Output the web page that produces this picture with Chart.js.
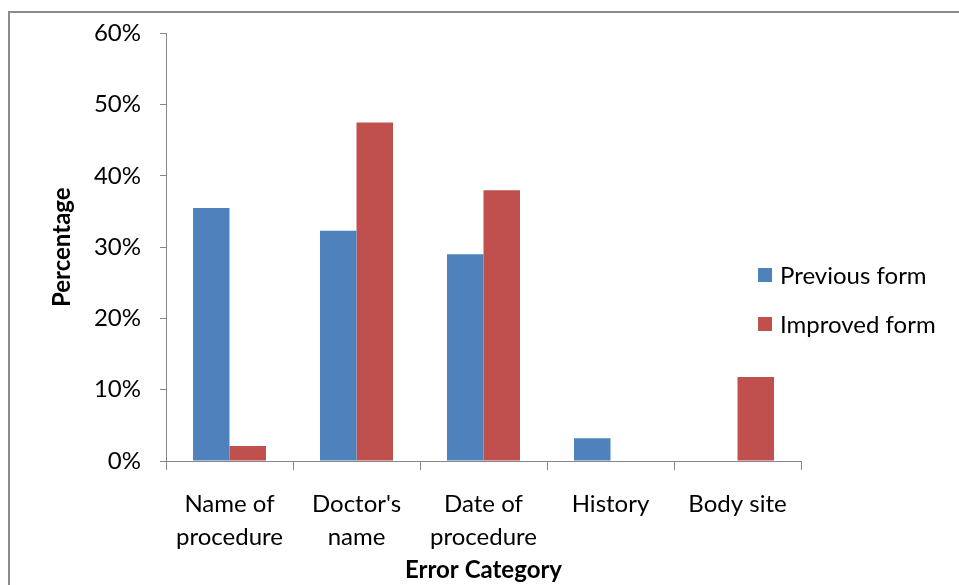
<!DOCTYPE html>
<html>
<head>
<meta charset="utf-8">
<script src="https://cdn.jsdelivr.net/npm/chart.js@4"></script>
<style>
    body { margin: 0; background: #fff; }
    #wrap { position: relative; width: 959px; height: 585px; overflow: hidden; }
    #frame { position: absolute; left: 8px; top: 11px; width: 1000px; height: 600px; border: 2px solid #8c8c8c; }
    #chart { position: absolute; left: 0; top: 0; }
    #legend { position: absolute; left: 758px; top: 260px; font-family: Lato, sans-serif; font-size: 24px; color: #000; }
    .item { position: relative; height: 49px; line-height: 30px; padding-left: 22px; white-space: nowrap; }
    .box { position: absolute; left: 0; top: 8px; width: 14px; height: 14px; }
</style>
</head>
<body>
<div id="wrap">
    <div id="frame"></div>
    <canvas id="chart" width="959" height="585"></canvas>
    <div id="legend"></div>
</div>
<script>
// data
const categories = [['Name of', 'procedure'], ["Doctor's", 'name'], ['Date of', 'procedure'], 'History', 'Body site'];
const seriesNames = ['Previous form', 'Improved form'];
const previousForm = [35.5, 32.3, 29.0, 3.2, 0];
const improvedForm = [2.1, 47.5, 38.0, 0, 11.8];
const yMax = 60;
const yStep = 10;

const colors = ['#4f81bd', '#c0504d'];
const axisColor = '#868686';
const fontFamily = 'Lato, sans-serif';

Chart.defaults.font.family = fontFamily;
Chart.defaults.color = '#000';

let config = {
    type: 'bar',
    data: {
        labels: categories,
        datasets: [{
            label: seriesNames[0],
            data: previousForm,
            backgroundColor: colors[0]
        }, {
            label: seriesNames[1],
            data: improvedForm,
            backgroundColor: colors[1]
        }]
    },
    options: {
        responsive: false,
        animation: false,
        layout: { padding: { left: 0, right: 158, top: 33, bottom: 0 } },
        datasets: { bar: { categoryPercentage: 0.575, barPercentage: 1 } },
        plugins: {
            legend: { display: false },
            tooltip: { enabled: false }
        },
        scales: {
            x: {
                grid: { drawOnChartArea: false, drawTicks: true, tickLength: 9, color: axisColor, offset: true },
                border: { display: true, color: axisColor, width: 1 },
                ticks: { font: { size: 24, lineHeight: 1.375 }, padding: 18, maxRotation: 0, autoSkip: false },
                title: { display: true, text: 'Error Category', font: { size: 24, weight: 'bold' }, padding: { top: 0, bottom: 0 } },
                afterFit: (scale) => { scale.height = 124; }
            },
            y: {
                min: 0,
                max: yMax,
                grid: { drawOnChartArea: false, drawTicks: true, tickLength: 6, color: axisColor },
                border: { display: true, color: axisColor, width: 1 },
                ticks: { stepSize: yStep, font: { size: 24 }, padding: 19, callback: (v) => v + '%' },
                title: { display: true, text: 'Percentage', font: { size: 24, weight: 'bold' }, padding: { top: 48, bottom: 0 } },
                afterFit: (scale) => { scale.width = 166; }
            }
        }
    }
};

let ctx = document.getElementById('chart').getContext('2d');
let chart = new Chart(ctx, config);

// legend as html, overlapping the plot like the original
let legend = document.getElementById('legend');
for (let i = 0; i < seriesNames.length; i++) {
    let item = document.createElement('div');
    item.className = 'item';
    let box = document.createElement('span');
    box.className = 'box';
    box.style.background = colors[i];
    item.appendChild(box);
    item.appendChild(document.createTextNode(seriesNames[i]));
    legend.appendChild(item);
}
</script>
</body>
</html>
